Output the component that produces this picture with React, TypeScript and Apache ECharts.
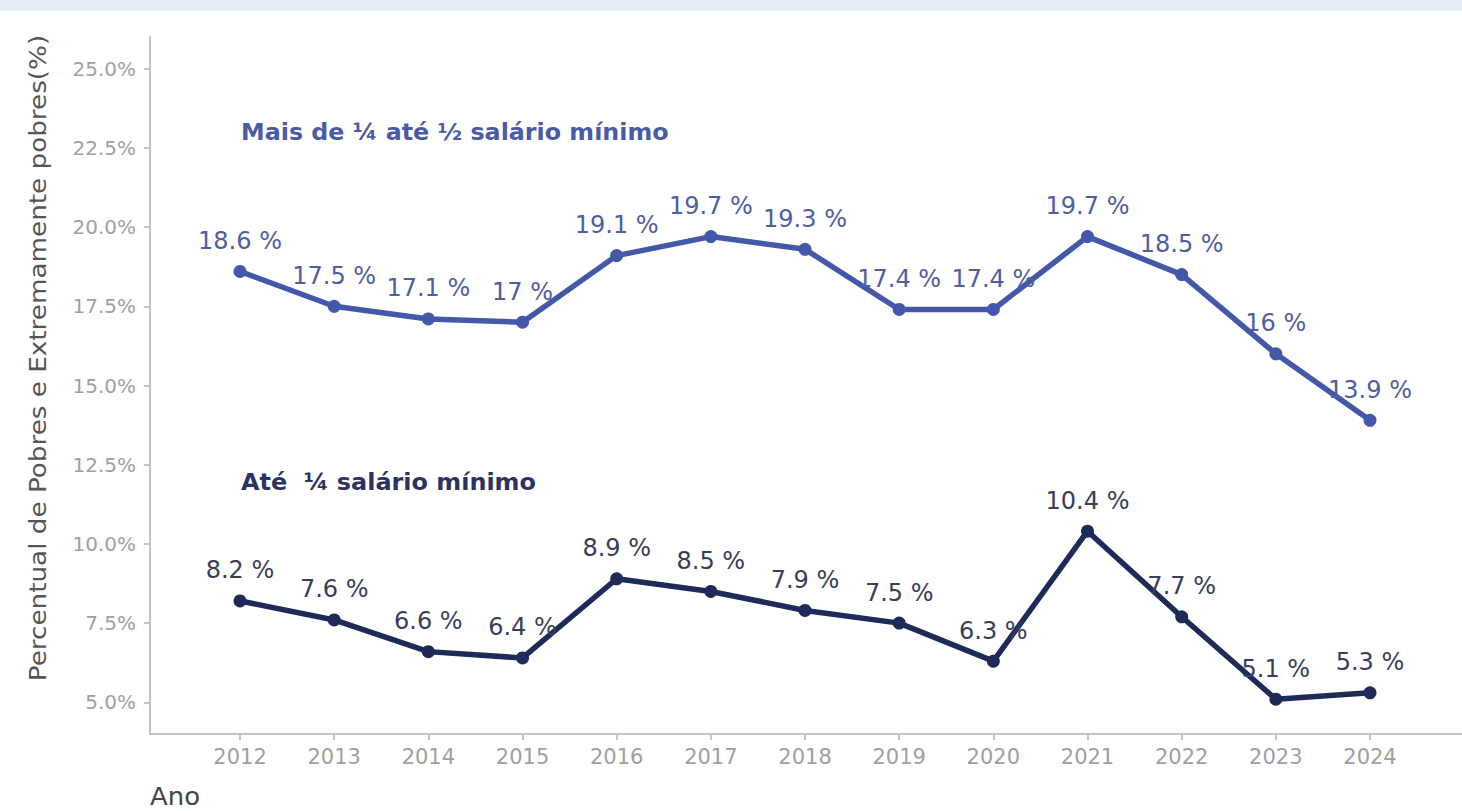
import React, { useEffect, useRef } from "react";
import * as echarts from "echarts";

const years = [2012, 2013, 2014, 2015, 2016, 2017, 2018, 2019, 2020, 2021, 2022, 2023, 2024];
const maisDeUmQuarto = [18.6, 17.5, 17.1, 17.0, 19.1, 19.7, 19.3, 17.4, 17.4, 19.7, 18.5, 16.0, 13.9];
const ateUmQuarto = [8.2, 7.6, 6.6, 6.4, 8.9, 8.5, 7.9, 7.5, 6.3, 10.4, 7.7, 5.1, 5.3];
const yTicks = [5.0, 7.5, 10.0, 12.5, 15.0, 17.5, 20.0, 22.5, 25.0];

const seriesNameUpper = "Mais de ¼ até ½ salário mínimo";
const seriesNameLower = "Até  ¼ salário mínimo";
const yTitle = "Percentual de Pobres e Extremamente pobres(%)";
const xTitle = "Ano";

const FONT = "DejaVu Sans";

export default function App() {
  const ref = useRef<HTMLDivElement>(null);
  useEffect(() => {
    if (!ref.current) return;
    const chart = echarts.init(ref.current, null, { renderer: "svg" });
    const mk = (vals: number[]) => years.map((y, i) => [y, vals[i]]);
    const labelOpt = (color: string) => ({
      show: true,
      position: "top",
      distance: 12,
      color,
      fontFamily: FONT,
      fontSize: 24,
      formatter: (p: any) => `${p.value[1]} %`,
    });
    chart.setOption({
      animation: false,
      backgroundColor: "#ffffff",
      grid: { left: 150, right: 0, top: 37, bottom: 77, containLabel: false },
      xAxis: {
        type: "value",
        min: 2011.044,
        max: 2024.977,
        axisLine: { show: true, lineStyle: { color: "#c4c4c4", width: 2 } },
        axisTick: { show: true, customValues: years, length: 6, lineStyle: { color: "#c4c4c4", width: 2 } },
        axisLabel: {
          customValues: years,
          color: "#a0a0a0",
          fontFamily: FONT,
          fontSize: 21,
          margin: 12,
          formatter: (v: number) => String(v),
        },
        splitLine: { show: false },
      },
      yAxis: {
        type: "value",
        min: 4,
        max: 26,
        axisLine: { show: true, lineStyle: { color: "#c4c4c4", width: 2 } },
        axisTick: { show: true, customValues: yTicks, length: 6, lineStyle: { color: "#c4c4c4", width: 2 } },
        axisLabel: {
          customValues: yTicks,
          color: "#a0a0a0",
          fontFamily: FONT,
          fontSize: 20,
          margin: 14,
          formatter: (v: number) => `${v.toFixed(1)}%`,
        },
        splitLine: { show: false },
      },
      series: [
        {
          name: seriesNameUpper,
          type: "line",
          data: mk(maisDeUmQuarto),
          symbol: "circle",
          symbolSize: 13,
          lineStyle: { color: "#4358a8", width: 5.5 },
          itemStyle: { color: "#4358a8" },
          label: labelOpt("#4e5e9e"),
        },
        {
          name: seriesNameLower,
          type: "line",
          data: mk(ateUmQuarto),
          symbol: "circle",
          symbolSize: 13,
          lineStyle: { color: "#1e2a58", width: 5.5 },
          itemStyle: { color: "#1e2a58" },
          label: labelOpt("#383e58"),
        },
      ],
      graphic: [
        {
          type: "rect",
          left: 0,
          top: 0,
          shape: { x: 0, y: 0, width: 1462, height: 11 },
          style: { fill: "#e8eef6" },
          silent: true,
        },
        {
          type: "text",
          x: 241,
          y: 132,
          scaleX: 1.035,
          style: {
            text: seriesNameUpper,
            fill: "#4a5aa6",
            font: `bold 23px "${FONT}"`,
            align: "left",
            verticalAlign: "middle",
            textAlign: "left",
            textVerticalAlign: "middle",
          },
        },
        {
          type: "text",
          x: 241,
          y: 482,
          scaleX: 1.04,
          style: {
            text: seriesNameLower,
            fill: "#2b3360",
            font: `bold 23px "${FONT}"`,
            align: "left",
            verticalAlign: "middle",
            textAlign: "left",
            textVerticalAlign: "middle",
          },
        },
        {
          type: "text",
          x: 38,
          y: 358,
          rotation: Math.PI / 2,
          scaleX: 1.14,
          style: {
            text: yTitle,
            fill: "#555555",
            font: `23px "${FONT}"`,
            align: "center",
            verticalAlign: "middle",
            textAlign: "center",
            textVerticalAlign: "middle",
          },
        },
        {
          type: "text",
          x: 150,
          y: 797,
          scaleX: 1.08,
          style: {
            text: xTitle,
            fill: "#444444",
            font: `24px "${FONT}"`,
            align: "left",
            verticalAlign: "middle",
            textAlign: "left",
            textVerticalAlign: "middle",
          },
        },
      ],
    });
    return () => chart.dispose();
  }, []);
  return (
    <div
      ref={ref}
      style={{ position: "fixed", left: 0, top: 0, width: 1462, height: 811, background: "#fff" }}
    />
  );
}
